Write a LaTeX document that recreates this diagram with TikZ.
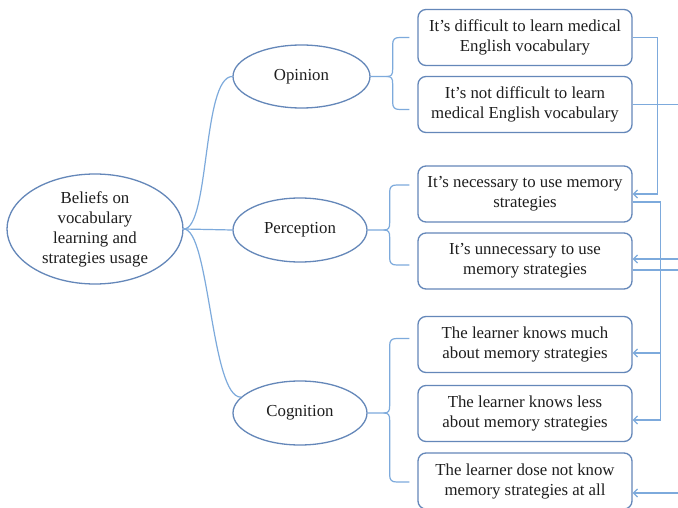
\documentclass[tikz,border=0pt]{standalone}
\usepackage{fontspec}
\setmainfont{Liberation Serif}
\usetikzlibrary{shapes.geometric,arrows.meta,calc}
\definecolor{edgeblue}{RGB}{100,135,185}
\definecolor{lineblue}{RGB}{125,170,220}
\definecolor{txt}{RGB}{30,30,30}
\newcommand{\mybrace}[3]{%
  \coordinate (bT) at #2;
  \coordinate (bB) at #3;
  \coordinate (bJ) at ($(#1.east)+(22,0)$);
  \draw[conn] (#1.east) -- ($(bJ)+(-6,0)$)
    .. controls ($(bJ)+(-1,0)$) and ($(bJ)+(0,-2)$) .. ($(bJ)+(0,-7)$)
    -- ($(bJ|-bT)+(0,7)$)
    .. controls ($(bJ|-bT)+(0,2)$) and ($(bJ|-bT)+(2,0)$) .. ($(bJ|-bT)+(7,0)$)
    -- (bT);
  \draw[conn] ($(bJ)+(-6,0)$)
    .. controls ($(bJ)+(-1,0)$) and ($(bJ)+(0,2)$) .. ($(bJ)+(0,7)$)
    -- ($(bJ|-bB)+(0,-7)$)
    .. controls ($(bJ|-bB)+(0,-2)$) and ($(bJ|-bB)+(2,0)$) .. ($(bJ|-bB)+(7,0)$)
    -- (bB);
}
\begin{document}
\begin{tikzpicture}[x=1pt,y=-1pt,
  ell/.style={ellipse,draw=edgeblue,line width=1.3pt,inner sep=0pt,align=center,
    font=\fontsize{16.8}{20}\selectfont,text=txt},
  box/.style={rectangle,rounded corners=8pt,draw=edgeblue,line width=1.3pt,
    minimum width=214pt,minimum height=56pt,inner sep=0pt,align=center,
    font=\fontsize{16.8}{20}\selectfont,text=txt},
  conn/.style={draw=lineblue,line width=1.2pt},
  arr/.style={conn,-{Straight Barb[length=4pt,width=8pt]}}]
\useasboundingbox (0,0) rectangle (678,508);
\fill[white] (0,0) rectangle (678,508);
\coordinate (edge) at (678,0);
% ellipses
\node[ell,minimum width=176pt,minimum height=110pt] (root) at (95,229)
  {Beliefs on\\vocabulary\\learning and\\strategies usage};
\node[ell,minimum width=137pt,minimum height=63pt] (op) at (301.5,76.5) {Opinion};
\node[ell,minimum width=134pt,minimum height=64pt] (pe) at (300,230) {Perception};
\node[ell,minimum width=134pt,minimum height=64pt] (co) at (300,413) {Cognition};
% boxes
\node[box] (b1) at (525,37.5) {It’s difficult to learn medical\\English vocabulary};
\node[box] (b2) at (525,104.5) {It’s not difficult to learn\\medical English vocabulary};
\node[box] (b3) at (525,194) {It’s necessary to use memory\\strategies};
\node[box] (b4) at (525,261) {It’s unnecessary to use\\memory strategies};
\node[box] (b5) at (525,344.5) {The learner knows much\\about memory strategies};
\node[box] (b6) at (525,413.5) {The learner knows less\\about memory strategies};
\node[box] (b7) at (525,481) {The learner dose not know\\memory strategies at all};
% tree from root
\draw[conn] (root.east) .. controls ($(root.east)+(26,0)$) and ($(op.west)+(-30,0)$) .. (op.west);
\draw[conn] (root.east) -- (pe.west);
\draw[conn] (root.east) .. controls ($(root.east)+(26,0)$) and ($(co.165)+(-30,0)$) .. (co.165);
% braces
\mybrace{op}{($(b1.west)+(-8,0)$)}{($(b2.west)+(-8,5)$)}
\mybrace{pe}{($(b3.west)+(-8,-9)$)}{($(b4.west)+(-8,4)$)}
\mybrace{co}{($(b5.west)+(-8,-6)$)}{($(b7.west)+(-8,1)$)}
% right-hand connectors
\draw[arr] (b1.east) -- ++(25,0) |- (b3.east);
\draw[conn] (b2.east) -- (b2.east -| edge);
\coordinate (b3out) at ($(b3.east)+(0,8)$);
\coordinate (b5in) at ($(b5.east)+(0,8.5)$);
\coordinate (b6in) at ($(b6.east)+(0,6.5)$);
\coordinate (vx) at ($(b3.east)+(28,0)$);
\draw[conn] (b3out) -| (vx |- b6in);
\draw[arr] (vx |- b5in) -- (b5in);
\draw[arr] (vx |- b6in) -- (b6in);
\coordinate (b4in) at ($(b4.east)+(0,-2)$);
\coordinate (b4out) at ($(b4.east)+(0,9)$);
\draw[arr] (b4in -| edge) -- (b4in);
\draw[conn] (b4out) -- (b4out -| edge);
\coordinate (b7in) at ($(b7.east)+(0,12)$);
\draw[arr] (b7in -| edge) -- (b7in);
\end{tikzpicture}
\end{document}
